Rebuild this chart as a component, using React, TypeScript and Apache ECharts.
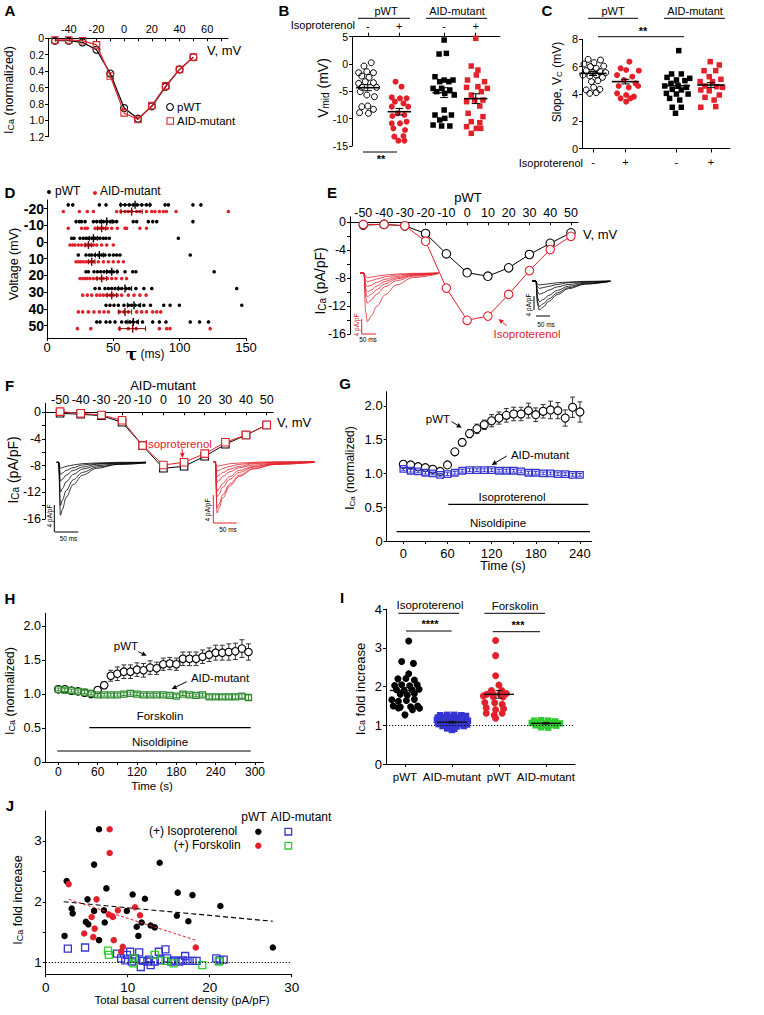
import React, { useEffect, useRef } from "react";
import * as echarts from "echarts";

const FONT = '"Liberation Sans", Arial, Helvetica, sans-serif';
const BLACK = "#000";
const RED = "#e3212b";
const BLUE = "#3535d2";
const DKGREEN = "#2e8b2e";
const GREEN = "#2fcc2f";
const CLEAR = "rgba(255,255,255,0)";

// ---------------- Panel A ----------------
const A_VOLT = [-50, -40, -30, -20, -10, 0, 10, 20, 30, 40, 50];
const A_PWT = [0.03, 0.03, 0.05, 0.14, 0.43, 0.85, 0.98, 0.83, 0.59, 0.38, 0.23];
const A_MUT = [0.02, 0.02, 0.03, 0.08, 0.46, 0.91, 0.99, 0.82, 0.58, 0.38, 0.23];
const A_X_TICKS = [-50, -40, -30, -20, -10, 0, 10, 20, 30, 40, 50, 60, 70];
const A_X_LABELS = [-40, -20, 0, 20, 40, 60];
const A_Y_LABELS = [0, 0.2, 0.4, 0.6, 0.8, 1.0, 1.2];

// ---------------- Panel B (Vmid) ----------------
const B_POS = [1, 2, 3.42, 4.42];
const B_SIGNS = ["-", "+", "-", "+"];
const B_PWT_CTRL = [[0.11, 0.24], [-0.12, -0.37], [-0.29, -1.59], [-0.03, -1.4], [0.18, -1.59], [-0.19, -2.2], [0.04, -2.44], [-0.29, -3.54], [-0.08, -3.23], [0.18, -3.41], [-0.19, -4.27], [0.28, -4.27], [-0.24, -5.06], [-0.03, -5.67], [0.21, -5.98], [-0.19, -7.8], [0, -7.68], [0.18, -8.29], [-0.26, -8.9], [0.02, -9.02]];
const B_PWT_ISO = [[-0.12, -3.23], [0.07, -4.15], [-0.24, -6.1], [0.02, -6.28], [0.23, -6.28], [-0.14, -6.89], [0.13, -7.2], [-0.24, -7.8], [0.28, -7.8], [-0.05, -9.02], [0.16, -9.33], [-0.22, -9.51], [0.23, -10.55], [-0.24, -10.85], [0.02, -10.85], [-0.19, -11.77], [0.18, -12.07], [-0.16, -13.29], [0.13, -13.17], [-0.03, -14.02], [0.16, -14.02]];
const B_MUT_CTRL = [[0, 4.39], [-0.16, 1.83], [0.07, 1.95], [-0.29, -2.32], [0, -2.93], [0.28, -2.93], [-0.14, -3.23], [0.15, -3.23], [-0.35, -4.45], [-0.08, -4.45], [0.18, -4.76], [-0.24, -5.06], [0.02, -5.37], [0.32, -5.67], [0, -8.41], [-0.29, -9.33], [0.23, -9.33], [0.02, -9.94], [-0.14, -10.24], [-0.35, -11.16], [-0.08, -11.34], [0.18, -11.34]];
const B_MUT_ISO = [[0, 4.7], [-0.14, -0.37], [0.07, -1.1], [0.02, -2.01], [-0.26, -2.93], [0.28, -3.23], [-0.29, -4.27], [0.07, -4.15], [0.37, -4.45], [0.18, -5.06], [-0.14, -5.67], [0.23, -6.59], [-0.29, -6.89], [-0.03, -6.59], [0.13, -7.68], [-0.24, -9.02], [0.23, -9.63], [-0.14, -10.55], [0.13, -10.73], [-0.29, -11.46], [0.02, -11.77], [0.16, -11.77], [-0.14, -12.68]];
const B_MEAN = [-4.33, -8.72, -5.24, -6.34];
const B_SEM = [0.55, 0.6, 0.9, 0.9];

// ---------------- Panel C (slope) ----------------
const C_POS = [1, 2, 3.57, 4.63];
const C_PWT_CTRL = [[-0.15, 6.53], [0.03, 6.29], [0.23, 6.48], [-0.28, 6.19], [-0.08, 6.0], [0.1, 5.87], [0.33, 6.04], [-0.21, 5.7], [0, 5.56], [0.21, 5.63], [0.39, 5.56], [-0.31, 5.38], [-0.1, 5.31], [0.1, 5.38], [0.29, 5.21], [-0.05, 4.9], [0.15, 4.97], [-0.21, 4.29], [0.02, 4.48], [0.21, 4.33], [-0.1, 4.04], [0.1, 4.09]];
const C_PWT_ISO = [[0.12, 6.36], [-0.15, 5.87], [0.02, 5.75], [0.41, 5.7], [-0.26, 5.38], [0.21, 5.26], [-0.05, 5.02], [0.31, 4.77], [-0.21, 4.58], [0.1, 4.48], [0.39, 4.58], [-0.26, 4.04], [0.02, 3.92], [0.26, 3.8], [-0.15, 3.67], [0.15, 3.67], [0.02, 3.43]];
const C_MUT_CTRL = [[0.07, 7.17], [-0.15, 5.46], [0.15, 5.46], [-0.29, 5.21], [0.41, 5.14], [0, 5.02], [0.26, 4.97], [-0.17, 4.77], [-0.36, 4.58], [0.05, 4.58], [0.31, 4.48], [-0.13, 4.33], [0.15, 4.29], [-0.31, 4.04], [0, 3.99], [0.36, 3.99], [-0.21, 3.67], [0.1, 3.55], [-0.13, 3.02], [0.15, 3.02], [-0.03, 2.58]];
const C_MUT_ISO = [[-0.02, 6.36], [0.26, 6.12], [-0.21, 5.7], [0.15, 5.7], [-0.05, 5.26], [0.31, 5.07], [-0.33, 4.9], [0.05, 4.9], [-0.18, 4.58], [0.18, 4.53], [0.36, 4.48], [-0.31, 4.29], [-0.05, 4.23], [0.26, 3.92], [-0.18, 3.75], [0.1, 3.55], [-0.31, 3.02], [0.15, 3.07]];
const C_MEAN = [5.5, 4.9, 4.6, 4.65];
const C_SEM = [0.15, 0.17, 0.2, 0.17];

// ---------------- Panel D (tau) ----------------
const D_VOLT = [-20, -10, 0, 10, 20, 30, 40, 50];
const D_PWT_TAU = [
  [16, 19.4, 39.5, 44.5, 55.6, 58.8, 62, 65, 68, 71.4, 75, 77.7, 89, 91.5, 110, 116],
  [21.9, 24.4, 26, 28.7, 35, 37.5, 40, 42.5, 45, 47.5, 50, 52.5, 65, 67.6, 76.4, 79.7, 82.7, 110],
  [18.6, 20.4, 24.9, 27.4, 29.4, 31.2, 33.7, 36.2, 38, 40, 42.5, 44.5, 47, 99],
  [23.6, 29.4, 32, 33.7, 36.2, 38.7, 41.2, 43.7, 47, 50, 52.5, 55, 108],
  [29.4, 31.2, 35.4, 38, 40.5, 43, 45.5, 47.5, 50, 53, 58.8, 64.6, 67, 126],
  [36.2, 39.5, 43.7, 46.3, 48.8, 51.3, 53.8, 56.3, 59.6, 62, 67, 73, 79, 143],
  [44.5, 47.5, 50.5, 53.8, 58, 61.3, 63.8, 66.4, 69.6, 73, 78, 88, 92.8, 99.8, 146.8],
  [37.5, 40, 44.5, 47.5, 51.3, 56.3, 59.6, 62.6, 65, 68, 72, 79.7, 84.7, 89.7, 108, 115, 121.7],
];
const D_MUT_TAU = [
  [12.3, 24.4, 30.4, 35, 52.5, 55.6, 58.8, 61.3, 63.8, 67.6, 70, 75, 79, 81.4, 84.7, 87.7, 90, 97.3, 136.7],
  [16, 26, 28.7, 30.4, 36.2, 38, 40, 42.5, 45.5, 48.8, 53, 58.8, 60, 70, 75],
  [17.3, 19.4, 21, 23.6, 26, 28.7, 30.4, 32.4, 35, 37.5, 41.2, 45, 50],
  [21.9, 23.6, 25.4, 27.4, 29.4, 31.2, 33, 35, 38.7, 42.5, 46.3, 50, 53.8, 57.6],
  [24.9, 26.9, 28.7, 30.4, 32.4, 35, 37.5, 40, 42.5, 45.5, 48.8, 52, 56.3, 60],
  [26.9, 30.4, 33.7, 37.5, 40, 42.5, 45, 47.5, 50, 53, 56.3, 61.3, 65.6, 70, 74.7],
  [23.6, 26.9, 31.2, 35.4, 39.5, 43, 46.3, 54.6, 58, 61.3, 67.6, 71.4, 75, 79.7, 82.7, 85.7],
  [22.9, 33, 54.6, 61.3, 67.2, 84.7, 90.2, 92.7, 123],
];
const D_PWT_MEAN = [66.4, 45, 35, 39.5, 48.8, 58.8, 65.6, 65];
const D_PWT_ERR = [11, 4, 3, 3, 4, 5, 5, 4];
const D_MUT_MEAN = [63.8, 41.2, 31.2, 33.7, 41.2, 48.8, 58.8, 64.6];
const D_MUT_ERR = [8, 3, 2.5, 2.5, 3.5, 3.5, 5, 9.7];

// ---------------- Panel E / F (I-V) ----------------
const IV_VOLT = [-50, -40, -30, -20, -10, 0, 10, 20, 30, 40, 50];
const E_PWT = [-0.4, -0.3, -0.5, -1.6, -4.5, -7.2, -7.7, -6.5, -4.6, -3.0, -1.5];
const E_ISO = [-0.3, -0.3, -0.5, -2.7, -9.4, -14.0, -13.4, -10.3, -6.9, -3.9, -2.0];
const F_MUT = [-0.15, -0.3, -0.5, -1.5, -5.0, -8.4, -8.1, -6.6, -4.8, -3.4, -1.9];
const F_ISO = [0.1, -0.15, -0.4, -1.2, -5.0, -7.9, -7.5, -6.2, -4.5, -3.4, -1.9];
const IV_X_TICKS = [-50, -40, -30, -20, -10, 0, 10, 20, 30, 40, 50];
const IV_Y_LABELS = [0, -4, -8, -12, -16];
const IV_Y_TICKS = [0, -2, -4, -6, -8, -10, -12, -14, -16];

// current traces (time in ms, current in pA/pF)
const E_TRACE_T = [0, 14, 20, 26, 40, 60, 90, 130, 190, 280];
const E_ISO_TRACES = [
  [0, 0, -11, -13.9, -12.3, -9.5, -6.2, -3.4, -1.3, -0.2],
  [0, 0, -7, -8.6, -7.7, -6.0, -3.9, -2.2, -0.9, -0.1],
  [0, 0, -5.5, -6.8, -6.1, -4.7, -3.1, -1.7, -0.7, -0.1],
  [0, 0, -4.4, -5.4, -4.8, -3.7, -2.4, -1.4, -0.5, -0.1],
  [0, 0, -3.2, -3.9, -3.5, -2.7, -1.8, -1.0, -0.4, 0],
  [0, 0, -2.0, -2.5, -2.2, -1.7, -1.1, -0.6, -0.2, 0],
  [0, 0, -1.0, -1.3, -1.2, -0.9, -0.6, -0.3, -0.1, 0],
];
const E_PWT_TRACES = [
  [0, 0, -6.8, -8.3, -7.4, -5.8, -3.9, -2.2, -0.9, -0.1],
  [0, 0, -6.0, -7.3, -6.5, -5.1, -3.4, -1.9, -0.8, -0.1],
  [0, 0, -4.8, -5.9, -5.3, -4.1, -2.7, -1.5, -0.6, -0.1],
  [0, 0, -3.1, -3.8, -3.4, -2.6, -1.7, -1.0, -0.4, 0],
  [0, 0, -1.7, -2.1, -1.9, -1.5, -1.0, -0.5, -0.2, 0],
  [0, 0, -0.9, -1.1, -1.0, -0.8, -0.5, -0.3, -0.1, 0],
];
const F_MUT_T = [0, 4, 8, 12, 20, 35, 55, 85, 130, 190];
const F_MUT_TRACES = [
  [0, 0, -7.85, -7.0, -5.2, -3.3, -1.9, -0.9, -0.3, -0.1],
  [0, 0, -6.4, -5.6, -4.2, -2.6, -1.5, -0.7, -0.3, -0.1],
  [0, 0, -4.4, -3.9, -2.9, -1.8, -1.0, -0.5, -0.2, 0],
  [0, 0, -2.8, -2.5, -1.9, -1.2, -0.7, -0.3, -0.1, 0],
  [0, 0, -1.8, -1.6, -1.2, -0.8, -0.4, -0.2, -0.1, 0],
  [0, 0, -0.9, -0.8, -0.6, -0.4, -0.2, -0.1, 0, 0],
];
const F_ISO_T = [0, 4, 8, 12, 20, 35, 55, 85, 130, 215];
const F_ISO_TRACES = [
  [0, 0, -7.6, -6.9, -5.4, -3.6, -2.2, -1.1, -0.4, -0.1],
  [0, 0, -6.9, -6.3, -4.9, -3.3, -2.0, -1.0, -0.4, -0.1],
  [0, 0, -5.2, -4.8, -3.8, -2.6, -1.6, -0.8, -0.3, 0],
  [0, 0, -4.4, -4.0, -3.2, -2.2, -1.3, -0.7, -0.3, 0],
  [0, 0, -3.0, -2.8, -2.2, -1.5, -0.9, -0.5, -0.2, 0],
  [0, 0, -2.2, -2.0, -1.6, -1.1, -0.7, -0.3, -0.1, 0],
  [0, 0, -1.4, -1.3, -1.0, -0.7, -0.4, -0.2, -0.1, 0],
  [0, 0, -0.7, -0.6, -0.5, -0.3, -0.2, -0.1, 0, 0],
];

// ---------------- Panel G (isoproterenol time course) ----------------
const G_T = [0, 10, 20, 30, 40, 50, 60, 70, 80, 90, 100, 110, 120, 130, 140, 150, 160, 170, 180, 190, 200, 210, 220, 230, 240];
const G_PWT = [1.136, 1.126, 1.1, 1.086, 1.062, 1.03, 1.126, 1.32, 1.46, 1.59, 1.66, 1.72, 1.78, 1.82, 1.86, 1.88, 1.88, 1.93, 1.87, 1.92, 1.94, 1.93, 1.82, 1.98, 1.91];
const G_PWT_ERR = [0.02, 0.02, 0.02, 0.02, 0.02, 0.02, 0.03, 0.04, 0.05, 0.06, 0.07, 0.07, 0.09, 0.09, 0.1, 0.1, 0.1, 0.11, 0.1, 0.1, 0.13, 0.12, 0.12, 0.15, 0.15];
const G_MUT = [1.067, 1.04, 1.03, 1.01, 1.0, 0.98, 0.99, 1.01, 1.04, 1.05, 1.05, 1.05, 1.05, 1.04, 1.04, 1.04, 1.03, 1.01, 1.01, 1.0, 1.0, 0.99, 0.99, 0.98, 0.98];
const G_MUT_ERR = [0.02, 0.02, 0.02, 0.02, 0.02, 0.02, 0.02, 0.02, 0.02, 0.02, 0.02, 0.02, 0.02, 0.02, 0.02, 0.02, 0.02, 0.02, 0.02, 0.02, 0.02, 0.02, 0.02, 0.02, 0.02];
const G_X_LABELS = [0, 60, 120, 180, 240];
const G_X_TICKS = [0, 30, 60, 90, 120, 150, 180, 210, 240];
const NORM_Y_LABELS = [0, 0.5, 1.0, 1.5, 2.0];

// ---------------- Panel H (forskolin time course) ----------------
const H_T = [0, 10, 20, 30, 40, 50, 60, 70, 80, 90, 100, 110, 120, 130, 140, 150, 160, 170, 180, 190, 200, 210, 220, 230, 240, 250, 260, 270, 280, 290];
const H_PWT = [1.07, 1.07, 1.05, 1.04, 1.02, 1.0, 1.06, 1.13, 1.27, 1.3, 1.33, 1.33, 1.36, 1.35, 1.39, 1.38, 1.44, 1.45, 1.44, 1.52, 1.52, 1.52, 1.55, 1.58, 1.61, 1.61, 1.62, 1.63, 1.67, 1.62];
const H_PWT_ERR = [0.02, 0.02, 0.02, 0.02, 0.02, 0.02, 0.03, 0.05, 0.08, 0.1, 0.1, 0.1, 0.1, 0.1, 0.1, 0.09, 0.09, 0.09, 0.09, 0.1, 0.1, 0.1, 0.1, 0.1, 0.11, 0.11, 0.12, 0.12, 0.13, 0.12];
const H_MUT = [1.07, 1.06, 1.05, 1.04, 1.03, 1.01, 0.99, 0.99, 0.99, 0.99, 1.0, 1.01, 1.0, 0.99, 0.99, 0.99, 0.99, 0.98, 0.97, 1.0, 0.99, 0.98, 0.99, 0.96, 0.96, 0.96, 0.96, 0.96, 0.97, 0.95];
const H_MUT_ERR = [0.02, 0.02, 0.02, 0.02, 0.02, 0.02, 0.02, 0.02, 0.02, 0.02, 0.02, 0.02, 0.02, 0.02, 0.02, 0.02, 0.02, 0.02, 0.02, 0.02, 0.02, 0.02, 0.02, 0.03, 0.03, 0.03, 0.03, 0.03, 0.03, 0.04];
const H_X_LABELS = [0, 60, 120, 180, 240, 300];
const H_X_TICKS = [0, 30, 60, 90, 120, 150, 180, 210, 240, 270, 300];

// ---------------- Panel I (fold increase) ----------------
const I_GROUPS = ["pWT", "AID-mutant", "pWT", "AID-mutant"];
const I_PWT_ISO = [[0.08, 3.18], [-0.07, 2.65], [0.18, 2.6], [0.08, 2.33], [-0.15, 2.2], [0.02, 2.21], [0.2, 2.17], [-0.22, 2.03], [-0.07, 2.05], [0.1, 2.02], [0.26, 2.05], [-0.18, 1.92], [-0.02, 1.9], [0.15, 1.92], [0.3, 1.93], [-0.1, 1.8], [0.05, 1.78], [0.2, 1.82], [-0.28, 1.66], [-0.14, 1.62], [0.03, 1.64], [0.2, 1.67], [-0.25, 1.5], [-0.1, 1.47], [0.12, 1.48], [0.27, 1.5], [-0.14, 1.45], [0.16, 1.4], [0.31, 1.44], [0, 1.27]];
const I_MUT_ISO = [[-0.25, 1.26], [-0.1, 1.27], [0.05, 1.27], [0.2, 1.26], [0.3, 1.24], [-0.3, 1.2], [-0.15, 1.21], [0, 1.22], [0.15, 1.2], [0.28, 1.19], [-0.32, 1.14], [-0.18, 1.15], [-0.05, 1.15], [0.1, 1.14], [0.24, 1.13], [0.34, 1.12], [-0.3, 1.08], [-0.15, 1.09], [0, 1.08], [0.15, 1.08], [0.3, 1.07], [-0.28, 1.03], [-0.12, 1.03], [0.03, 1.02], [0.18, 1.03], [0.32, 1.02], [-0.2, 0.98], [-0.05, 0.97], [0.1, 0.97], [0.25, 0.98], [-0.1, 0.92], [0.05, 0.91], [0, 0.88]];
const I_PWT_FSK = [[-0.07, 3.19], [-0.07, 2.8], [-0.07, 2.28], [0, 2.04], [-0.16, 1.9], [0.06, 1.9], [-0.26, 1.8], [-0.12, 1.8], [0.02, 1.81], [0.16, 1.82], [-0.33, 1.76], [-0.12, 1.74], [0.09, 1.73], [-0.3, 1.59], [-0.09, 1.58], [0.07, 1.54], [-0.27, 1.45], [-0.07, 1.4], [0.1, 1.43], [-0.27, 1.31], [-0.1, 1.26], [0.07, 1.31], [-0.07, 1.18]];
const I_MUT_FSK = [[-0.25, 1.12], [-0.1, 1.13], [0.05, 1.12], [0.2, 1.1], [-0.3, 1.06], [-0.15, 1.07], [0, 1.05], [0.15, 1.06], [0.3, 1.05], [-0.22, 1.0], [-0.07, 1.0], [0.08, 1.01], [0.22, 0.99], [-0.1, 0.95], [0.05, 0.94]];
const I_MEAN = [1.9, 1.08, 1.8, 1.05];
const I_SEM = [0.08, 0.02, 0.1, 0.02];

// ---------------- Panel J (correlation) ----------------
const J_PWT_ISO = [[2.3, 1.44], [2.56, 2.34], [3.17, 1.89], [3.29, 1.81], [4.9, 1.67], [5.2, 1.63], [5.1, 2.04], [5.9, 2.61], [5.9, 1.85], [6.5, 1.37], [6.5, 3.19], [7.2, 1.66], [7.4, 2.22], [7.1, 1.86], [9.9, 1.85], [10.6, 2.12], [11.1, 1.59], [11.3, 1.44], [11.7, 1.66], [12.1, 2.05], [12.8, 1.61], [13.3, 1.58], [13.9, 2.64], [16.0, 1.77], [16.1, 2.15], [17.4, 1.68], [17.9, 2.11], [21.3, 1.93], [27.7, 1.25]];
const J_PWT_FSK = [[2.8, 2.29], [7.8, 3.19], [7.8, 2.8], [6.2, 2.04], [5.6, 1.75], [5.97, 1.56], [5.8, 1.42], [4.7, 1.48], [7.7, 1.79], [8.2, 1.75], [8.3, 1.37], [8.8, 1.86], [9.4, 1.26], [9.2, 1.18], [10.9, 1.91], [11.5, 1.78], [18.3, 1.25]];
const J_MUT_ISO = [[2.7, 1.23], [4.8, 1.25], [8.7, 1.15], [9.2, 1.07], [9.7, 1.04], [9.9, 1.13], [10.3, 1.18], [10.5, 1.02], [10.9, 1.07], [11.4, 1.17], [11.6, 0.93], [11.9, 1.03], [12.6, 1.05], [12.8, 0.96], [13.3, 1.02], [13.8, 1.18], [14.0, 1.04], [14.6, 1.22], [14.8, 1.07], [15.3, 1.02], [15.7, 1.04], [16.3, 1.02], [16.7, 1.04], [17.0, 1.11], [17.3, 1.03], [17.9, 1.03], [18.4, 1.03], [20.8, 1.07], [21.2, 1.04], [21.7, 1.05], [12.4, 1.02]];
const J_MUT_FSK = [[7.6, 1.2], [7.7, 1.13], [10.7, 1.07], [10.7, 0.99], [13.3, 1.13], [14.6, 1.03], [15.6, 0.99], [19.1, 0.96], [21.1, 1.02]];
const J_TREND_ISO = [[2.2, 2.0], [27.7, 1.68]];
const J_TREND_FSK = [[2.8, 2.04], [18.3, 1.37]];
const J_Y_LABELS = [1, 2, 3];
const J_Y_TICKS = [1, 1.5, 2, 2.5, 3];

// ================= helpers =================
const zip = (xs, ys) => xs.map((x, i) => [x, ys[i]]);
const swarm = (pos, pts) => pts.map(([dx, v]) => [pos + dx, v]);
const fmt1 = (v) => (v === 0 ? "0" : v.toFixed(1));

function axis(gi, o) {
  const show = o.show !== false;
  return {
    type: "value",
    gridIndex: gi,
    min: o.min,
    max: o.max,
    interval: o.interval,
    inverse: !!o.inverse,
    position: o.position,
    axisLine: { show, onZero: !!o.onZero, lineStyle: { color: BLACK, width: 1 } },
    axisTick: {
      show,
      length: o.tickLen ?? 3,
      inside: !!o.tickInside,
      customValues: o.ticks,
      lineStyle: { color: BLACK, width: 1 },
    },
    axisLabel: {
      show,
      customValues: o.labels,
      formatter: o.fmt,
      margin: o.margin ?? 4,
      hideOverlap: false,
      showMinLabel: true,
      showMaxLabel: true,
      color: BLACK,
      fontFamily: FONT,
      fontSize: o.fontSize ?? 11,
      fontWeight: o.bold ? "bold" : "normal",
    },
    splitLine: { show: false },
  };
}

function scatter(gi, data, symbol, size, fill, stroke, bw, z = 3) {
  return {
    type: "scatter",
    xAxisIndex: gi,
    yAxisIndex: gi,
    data,
    symbol,
    symbolSize: size,
    itemStyle: { color: fill, borderColor: stroke, borderWidth: bw, opacity: 1 },
    z,
    silent: true,
  };
}

function lineSeries(gi, data, color, symbol, size, fill, lw = 1, z = 3) {
  return {
    type: "line",
    xAxisIndex: gi,
    yAxisIndex: gi,
    data,
    symbol,
    symbolSize: size,
    showSymbol: !!symbol,
    clip: false,
    lineStyle: { color, width: lw },
    itemStyle: { color: fill, borderColor: color, borderWidth: 1.1 },
    z,
    silent: true,
  };
}

function traceSeries(gi, t, vals, color) {
  return {
    type: "line",
    xAxisIndex: gi,
    yAxisIndex: gi,
    data: zip(t, vals),
    showSymbol: false,
    symbol: "none",
    smooth: 0.35,
    smoothMonotone: "x",
    clip: false,
    lineStyle: { color, width: 0.8 },
    z: 2,
    silent: true,
  };
}

const L = (x1, y1, x2, y2, st) => ({ type: "line", shape: { x1, y1, x2, y2 }, style: st });

function meanBars(gi, data, color, hw, cap, lw = 1.6) {
  return {
    type: "custom",
    coordinateSystem: "cartesian2d",
    xAxisIndex: gi,
    yAxisIndex: gi,
    z: 6,
    silent: true,
    data,
    renderItem: (p, api) => {
      const x = api.value(0), m = api.value(1), e = api.value(2);
      const l = api.coord([x - hw, m]), r = api.coord([x + hw, m]);
      const t = api.coord([x, m + e]), b = api.coord([x, m - e]);
      const st = { stroke: color, lineWidth: 1 };
      return {
        type: "group",
        children: [
          L(l[0], l[1], r[0], r[1], { stroke: color, lineWidth: lw }),
          L(t[0], t[1], b[0], b[1], st),
          L(t[0] - cap, t[1], t[0] + cap, t[1], st),
          L(b[0] - cap, b[1], b[0] + cap, b[1], st),
        ],
      };
    },
  };
}

function hErrBars(gi, data, color) {
  return {
    type: "custom",
    coordinateSystem: "cartesian2d",
    xAxisIndex: gi,
    yAxisIndex: gi,
    z: 6,
    silent: true,
    data,
    renderItem: (p, api) => {
      const m = api.value(0), row = api.value(1), e = api.value(2);
      const a = api.coord([m - e, row]), b = api.coord([m + e, row]), c = api.coord([m, row]);
      const st = { stroke: color, lineWidth: 1 };
      return {
        type: "group",
        children: [
          L(a[0], a[1], b[0], b[1], st),
          L(a[0], a[1] - 2.5, a[0], a[1] + 2.5, st),
          L(b[0], b[1] - 2.5, b[0], b[1] + 2.5, st),
          L(c[0], c[1] - 4, c[0], c[1] + 4, { stroke: color, lineWidth: 1.4 }),
        ],
      };
    },
  };
}

function vErrBars(gi, data, color, cap = 2.5, z = 2) {
  return {
    type: "custom",
    coordinateSystem: "cartesian2d",
    xAxisIndex: gi,
    yAxisIndex: gi,
    z,
    silent: true,
    data,
    renderItem: (p, api) => {
      const x = api.value(0), v = api.value(1), e = api.value(2);
      const t = api.coord([x, v + e]), b = api.coord([x, v - e]);
      const st = { stroke: color, lineWidth: 1 };
      return {
        type: "group",
        children: [
          L(t[0], t[1], b[0], b[1], st),
          L(t[0] - cap, t[1], t[0] + cap, t[1], st),
          L(b[0] - cap, b[1], b[0] + cap, b[1], st),
        ],
      };
    },
  };
}

function refLine(gi, y) {
  return {
    type: "scatter",
    xAxisIndex: gi,
    yAxisIndex: gi,
    data: [],
    symbolSize: 0,
    z: 1,
    silent: true,
    markLine: {
      silent: true,
      symbol: ["none", "none"],
      label: { show: false },
      lineStyle: { color: BLACK, type: [1.2, 1.8], width: 1 },
      data: [{ yAxis: y }],
    },
  };
}

// graphic helpers
function T(x, y, text, o = {}) {
  return {
    type: "text",
    x,
    y,
    rotation: o.rot || 0,
    silent: true,
    z: 100,
    style: {
      text,
      fill: o.color || BLACK,
      fontSize: o.size || 11,
      fontFamily: FONT,
      fontWeight: o.bold ? "bold" : "normal",
      align: o.align || "center",
      verticalAlign: "middle",
    },
  };
}
function subT(x, y, pre, sub, post, size, rot = Math.PI / 2) {
  return {
    type: "text",
    x,
    y,
    rotation: rot,
    silent: true,
    z: 100,
    style: {
      text: `{m|${pre}}{s|${sub}}{m|${post}}`,
      align: "center",
      verticalAlign: "middle",
      rich: {
        m: { fontSize: size, fontFamily: FONT, fill: BLACK, lineHeight: size },
        s: { fontSize: Math.round(size * 0.7), fontFamily: FONT, fill: BLACK, lineHeight: Math.round(size * 0.35), verticalAlign: "bottom" },
      },
    },
  };
}
function G(x1, y1, x2, y2, color = BLACK, w = 1) {
  return { type: "line", silent: true, z: 100, shape: { x1, y1, x2, y2 }, style: { stroke: color, lineWidth: w } };
}
function arrow(x1, y1, x2, y2, color = BLACK) {
  const ang = Math.atan2(y2 - y1, x2 - x1);
  const len = 5, w = 2.4;
  const bx = x2 - len * Math.cos(ang), by = y2 - len * Math.sin(ang);
  const px = -Math.sin(ang) * w, py = Math.cos(ang) * w;
  return [
    G(x1, y1, bx, by, color, 1),
    { type: "polygon", silent: true, z: 100, shape: { points: [[x2, y2], [bx + px, by + py], [bx - px, by - py]] }, style: { fill: color } },
  ];
}

// ================= option =================
function buildOption() {
  const grid = [
    { left: 48, top: 38.3, width: 180, height: 98.4 }, // 0 A
    { left: 352, top: 36.7, width: 148, height: 109.3 }, // 1 B
    { left: 582, top: 39.3, width: 148, height: 109.2 }, // 2 C
    { left: 47, top: 200, width: 199, height: 138 }, // 3 D
    { left: 350, top: 216.7, width: 228, height: 117.6 }, // 4 E
    { left: 45, top: 403.3, width: 228.3, height: 115.7 }, // 5 F
    { left: 386.7, top: 391.7, width: 205, height: 149.3 }, // 6 G
    { left: 45, top: 613.3, width: 218.3, height: 148.7 }, // 7 H
    { left: 386, top: 609.2, width: 189, height: 154.8 }, // 8 I
    { left: 45.7, top: 811, width: 246, height: 163.3 }, // 9 J
    { left: 360, top: 273, width: 78.4, height: 56 }, // 10 E iso traces
    { left: 532, top: 281, width: 78.4, height: 32 }, // 11 E pWT traces
    { left: 56.7, top: 462.3, width: 89.3, height: 54 }, // 12 F mutant traces
    { left: 213.3, top: 461.7, width: 102, height: 54 }, // 13 F iso traces
  ].map((g) => ({ ...g, containLabel: false, outerBoundsMode: "none" }));

  const signB = (v) => B_SIGNS[B_POS.findIndex((p) => Math.abs(p - v) < 1e-6)] ?? "";
  const signC = (v) => B_SIGNS[C_POS.findIndex((p) => Math.abs(p - v) < 1e-6)] ?? "";

  const xAxis = [
    axis(0, { min: -55, max: 75, position: "top", ticks: A_X_TICKS, labels: A_X_LABELS, tickInside: true, margin: 3.5, fontSize: 11 }),
    axis(1, { min: 0.5, max: 5.19, position: "top", ticks: B_POS, labels: B_POS, fmt: signB, tickLen: 4, margin: 5, fontSize: 11 }),
    axis(2, { min: 0.66, max: 5.22, position: "bottom", ticks: C_POS, labels: C_POS, fmt: signC, tickLen: 4, margin: 8, fontSize: 11 }),
    axis(3, { min: 0, max: 150, interval: 50, position: "bottom", margin: 3, fontSize: 13 }),
    axis(4, { min: -56.4, max: 53.4, position: "top", onZero: true, ticks: IV_X_TICKS, labels: IV_X_TICKS, tickInside: true, margin: -2.7, fontSize: 12.5 }),
    axis(5, { min: -57.3, max: 53.2, position: "top", onZero: true, ticks: IV_X_TICKS, labels: IV_X_TICKS, tickInside: true, margin: -2.7, fontSize: 12.5 }),
    axis(6, { min: -22.6, max: 256, position: "bottom", ticks: G_X_TICKS, labels: G_X_LABELS, margin: 6, fontSize: 13 }),
    axis(7, { min: -20.3, max: 312.6, position: "bottom", ticks: H_X_TICKS, labels: H_X_LABELS, margin: 4, fontSize: 12 }),
    axis(8, { min: -0.404, max: 3.62, position: "bottom", ticks: [0, 1, 2, 3], labels: [0, 1, 2, 3], fmt: (v) => I_GROUPS[Math.round(v)], margin: 7, fontSize: 11.5 }),
    axis(9, { min: 0, max: 30, interval: 10, position: "bottom", margin: 6, fontSize: 13.5 }),
    axis(10, { min: 0, max: 280, show: false }),
    axis(11, { min: 0, max: 280, show: false }),
    axis(12, { min: 0, max: 190, show: false }),
    axis(13, { min: 0, max: 217, show: false }),
  ];
  const yAxis = [
    axis(0, { min: 0, max: 1.2, inverse: true, ticks: A_Y_LABELS, labels: A_Y_LABELS, fmt: fmt1, fontSize: 10.5 }),
    axis(1, { min: -15, max: 5, interval: 5, fontSize: 10.5 }),
    axis(2, { min: 0, max: 8, interval: 2, fontSize: 11 }),
    axis(3, { min: -25.1, max: 57.4, inverse: true, ticks: D_VOLT, labels: D_VOLT, fontSize: 14, bold: true, margin: 3 }),
    axis(4, { min: -16, max: 0.8, ticks: IV_Y_TICKS, labels: IV_Y_LABELS, fontSize: 12.5 }),
    axis(5, { min: -16, max: 1.35, ticks: IV_Y_TICKS, labels: IV_Y_LABELS, fontSize: 12.5 }),
    axis(6, { min: 0, max: 2.21, ticks: NORM_Y_LABELS, labels: NORM_Y_LABELS, fmt: fmt1, fontSize: 13 }),
    axis(7, { min: 0, max: 2.19, ticks: NORM_Y_LABELS, labels: NORM_Y_LABELS, fmt: fmt1, fontSize: 12.5 }),
    axis(8, { min: 0, max: 4, interval: 1, fontSize: 13 }),
    axis(9, { min: 0.81, max: 3.49, ticks: J_Y_TICKS, labels: J_Y_LABELS, fontSize: 13.5 }),
    axis(10, { min: -16, max: 0, show: false }),
    axis(11, { min: -9.14, max: 0, show: false }),
    axis(12, { min: -8, max: 0, show: false }),
    axis(13, { min: -8, max: 0, show: false }),
  ];

  const series = [];
  // A
  series.push(lineSeries(0, zip(A_VOLT, A_PWT), BLACK, "circle", 7, CLEAR, 1.2));
  series.push(lineSeries(0, zip(A_VOLT, A_MUT), RED, "rect", 6.5, CLEAR, 1.2, 4));

  // B
  series.push(scatter(1, swarm(B_POS[0], B_PWT_CTRL), "circle", 6, CLEAR, BLACK, 1));
  series.push(scatter(1, swarm(B_POS[1], B_PWT_ISO), "circle", 6, RED, RED, 0));
  series.push(scatter(1, swarm(B_POS[2], B_MUT_CTRL), "rect", 5.5, BLACK, BLACK, 0));
  series.push(scatter(1, swarm(B_POS[3], B_MUT_ISO), "rect", 5.5, RED, RED, 0));
  series.push(meanBars(1, B_POS.map((p, i) => [p, B_MEAN[i], B_SEM[i]]), BLACK, 0.37, 4));

  // C
  series.push(scatter(2, swarm(C_POS[0], C_PWT_CTRL), "circle", 6, CLEAR, BLACK, 1));
  series.push(scatter(2, swarm(C_POS[1], C_PWT_ISO), "circle", 6, RED, RED, 0));
  series.push(scatter(2, swarm(C_POS[2], C_MUT_CTRL), "rect", 5.5, BLACK, BLACK, 0));
  series.push(scatter(2, swarm(C_POS[3], C_MUT_ISO), "rect", 5.5, RED, RED, 0));
  series.push(meanBars(2, C_POS.map((p, i) => [p, C_MEAN[i], C_SEM[i]]), BLACK, 0.42, 4));

  // D
  const dP = [], dM = [];
  D_VOLT.forEach((v, i) => {
    D_PWT_TAU[i].forEach((t) => dP.push([t, v - 2.2]));
    D_MUT_TAU[i].forEach((t) => dM.push([t, v + 1.8]));
  });
  series.push(scatter(3, dP, "circle", 3.6, BLACK, BLACK, 0));
  series.push(scatter(3, dM, "circle", 3.6, RED, RED, 0));
  series.push(hErrBars(3, D_VOLT.map((v, i) => [D_PWT_MEAN[i], v - 2.2, D_PWT_ERR[i]]), BLACK));
  series.push(hErrBars(3, D_VOLT.map((v, i) => [D_MUT_MEAN[i], v + 1.8, D_MUT_ERR[i]]), "#7a0a0a"));

  // E
  series.push(lineSeries(4, zip(IV_VOLT, E_PWT), BLACK, "circle", 8.5, "#fff", 1, 4));
  series.push(lineSeries(4, zip(IV_VOLT, E_ISO), RED, "circle", 8.5, "#fff", 1, 5));
  E_ISO_TRACES.forEach((tr) => series.push(traceSeries(10, E_TRACE_T, tr, RED)));
  E_PWT_TRACES.forEach((tr) => series.push(traceSeries(11, E_TRACE_T, tr, BLACK)));

  // F
  series.push(lineSeries(5, zip(IV_VOLT, F_MUT), BLACK, "rect", 7.5, "#fff", 1, 4));
  series.push(lineSeries(5, zip(IV_VOLT, F_ISO), RED, "rect", 7.5, "#fff", 1, 5));
  F_MUT_TRACES.forEach((tr) => series.push(traceSeries(12, F_MUT_T, tr, BLACK)));
  F_ISO_TRACES.forEach((tr) => series.push(traceSeries(13, F_ISO_T, tr, RED)));

  // G
  series.push(vErrBars(6, G_T.map((t, i) => [t, G_PWT[i], G_PWT_ERR[i]]), "#333", 2.5, 2));
  series.push(vErrBars(6, G_T.map((t, i) => [t, G_MUT[i], G_MUT_ERR[i]]), BLUE, 2, 4));
  series.push(scatter(6, zip(G_T, G_PWT), "circle", 8, "#fff", BLACK, 1.1, 3));
  series.push(scatter(6, zip(G_T, G_MUT), "rect", 6.5, CLEAR, BLUE, 1.3, 3));

  // H
  series.push(vErrBars(7, H_T.map((t, i) => [t, H_PWT[i], H_PWT_ERR[i]]), "#333", 2.5, 2));
  series.push(vErrBars(7, H_T.map((t, i) => [t, H_MUT[i], H_MUT_ERR[i]]), DKGREEN, 2, 4));
  series.push(scatter(7, zip(H_T, H_PWT), "circle", 7.5, "#fff", BLACK, 1.1, 3));
  series.push(scatter(7, zip(H_T, H_MUT), "rect", 6, CLEAR, DKGREEN, 1.3, 3));

  // I
  series.push(refLine(8, 1));
  series.push(scatter(8, swarm(0, I_PWT_ISO), "circle", 7, BLACK, BLACK, 0));
  series.push(scatter(8, swarm(1, I_MUT_ISO), "rect", 6.5, BLUE, BLUE, 0));
  series.push(scatter(8, swarm(2, I_PWT_FSK), "circle", 7, RED, RED, 0));
  series.push(scatter(8, swarm(3, I_MUT_FSK), "rect", 6.5, GREEN, GREEN, 0));
  series.push(meanBars(8, [0, 1, 2, 3].map((p, i) => [p, I_MEAN[i], I_SEM[i]]), "#111", 0.32, 3.5, 1.4));

  // J
  series.push(refLine(9, 1));
  series.push(scatter(9, J_MUT_ISO, "rect", 7, CLEAR, BLUE, 1.3));
  series.push(scatter(9, J_MUT_FSK, "rect", 7, CLEAR, GREEN, 1.3));
  series.push(scatter(9, J_PWT_ISO, "circle", 6.5, BLACK, BLACK, 0, 4));
  series.push(scatter(9, J_PWT_FSK, "circle", 6.5, RED, RED, 0, 4));
  series.push({ ...lineSeries(9, J_TREND_ISO, BLACK, null, 0, BLACK, 1.1, 5), lineStyle: { color: BLACK, width: 1.1, type: [5, 3] } });
  series.push({ ...lineSeries(9, J_TREND_FSK, RED, null, 0, RED, 1, 5), lineStyle: { color: RED, width: 1, type: [3, 2] } });

  // ---------- graphic annotations ----------
  const g = [];
  // panel letters
  [["A", 10, 10], ["B", 284, 10], ["C", 547, 10], ["D", 10, 192], ["E", 332, 192], ["F", 9.5, 385], ["G", 345, 383], ["H", 10, 598], ["I", 342, 597], ["J", 10, 805]].forEach(
    ([t, x, y]) => g.push(T(x, y, t, { size: 15, bold: true }))
  );
  // A
  g.push(subT(9, 90, "I", "Ca", " (normalized)", 12.5));
  g.push(T(207, 50, "V, mV", { size: 13, align: "left" }));
  g.push({ type: "circle", silent: true, z: 100, shape: { cx: 170, cy: 107, r: 3.4 }, style: { fill: CLEAR, stroke: BLACK, lineWidth: 1.1 } });
  g.push(T(177, 107, "pWT", { size: 11.5, align: "left" }));
  g.push({ type: "rect", silent: true, z: 100, shape: { x: 167, y: 117.8, width: 6.5, height: 6.5 }, style: { fill: CLEAR, stroke: RED, lineWidth: 1.1 } });
  g.push(T(177, 121, "AID-mutant", { size: 11.5, align: "left" }));
  // B
  g.push(subT(323, 88, "V", "mid", " (mV)", 14));
  g.push(T(386, 11, "pWT", { size: 11 }));
  g.push(G(358, 18.3, 410, 18.3));
  g.push(T(457, 11, "AID-mutant", { size: 11 }));
  g.push(G(426, 18.3, 487, 18.3));
  g.push(T(355, 25, "Isoproterenol", { size: 11, align: "right" }));
  g.push(G(363, 152, 397, 152));
  g.push(T(381, 158.5, "**", { size: 11, bold: true }));
  // C
  g.push(subT(557, 82, "Slope, V", "C", " (mV)", 12));
  g.push(T(613, 11, "pWT", { size: 11 }));
  g.push(G(588, 18.3, 638, 18.3));
  g.push(T(695, 11, "AID-mutant", { size: 11 }));
  g.push(G(664, 18.3, 725, 18.3));
  g.push(G(598, 36.7, 684, 36.7));
  g.push(T(643, 31, "**", { size: 11, bold: true }));
  g.push(T(583, 163, "Isoproterenol", { size: 11, align: "right" }));
  // D
  g.push(T(14, 264, "Voltage (mV)", { size: 12.5, rot: Math.PI / 2 }));
  g.push({ type: "circle", silent: true, z: 100, shape: { cx: 49, cy: 192, r: 2 }, style: { fill: BLACK } });
  g.push(T(55, 191, "pWT", { size: 12, align: "left" }));
  g.push({ type: "circle", silent: true, z: 100, shape: { cx: 95, cy: 193, r: 2 }, style: { fill: RED } });
  g.push(T(100, 191, "AID-mutant", { size: 12, align: "left" }));
  g.push({
    type: "text", x: 145, y: 354, silent: true, z: 100,
    style: { text: "{t|τ}{m| (ms)}", align: "center", verticalAlign: "middle", rich: { t: { fontSize: 17, fontFamily: "DejaVu Serif, serif", fontWeight: "bold", fill: BLACK }, m: { fontSize: 12, fontFamily: FONT, fill: BLACK } } },
  });
  // E
  g.push(subT(320, 281, "I", "Ca", " (pA/pF)", 14));
  g.push(T(468, 197, "pWT", { size: 13 }));
  g.push(T(583, 234, "V, mV", { size: 13, align: "left" }));
  g.push(T(527, 334, "Isoproterenol", { size: 11.5, color: RED }));
  g.push(...arrow(506.7, 325.7, 498.5, 319, RED));
  // E scale bars
  g.push(G(361.7, 319, 361.7, 334, RED), G(361.7, 334, 376, 334, RED));
  g.push(T(356.5, 325, "4 pA/pF", { size: 6.5, rot: Math.PI / 2, color: RED }));
  g.push(T(368, 339.5, "50 ms", { size: 6.5, color: BLACK }));
  g.push(G(534, 296, 534, 310, BLACK), G(536, 316, 550, 316, BLACK));
  g.push(T(528.5, 305, "4 pA/pF", { size: 6.5, rot: Math.PI / 2 }));
  g.push(T(546, 324, "50 ms", { size: 6.5 }));
  // F
  g.push(subT(13, 470, "I", "Ca", " (pA/pF)", 14));
  g.push(T(163, 385, "AID-mutant", { size: 13 }));
  g.push(T(277, 422, "V, mV", { size: 13, align: "left" }));
  g.push(T(178.3, 443.5, "Isoproterenol", { size: 11.5, color: RED }));
  g.push(...arrow(182, 448.5, 182.6, 458, RED));
  g.push(G(54.3, 505, 54.3, 532, BLACK), G(55, 532, 78.3, 532, BLACK));
  g.push(T(49.5, 516, "4 pA/pF", { size: 6.5, rot: Math.PI / 2 }));
  g.push(T(68.5, 538.5, "50 ms", { size: 6.5 }));
  g.push(G(213.3, 495, 213.3, 523, RED), G(213.3, 523, 236.7, 523, RED));
  g.push(T(207, 510, "4 pA/pF", { size: 6.5, rot: Math.PI / 2 }));
  g.push(T(228, 529.5, "50 ms", { size: 6.5 }));
  // G
  g.push(subT(350, 468, "I", "Ca", " (normalized)", 12));
  g.push(T(438, 419, "pWT", { size: 11.5 }));
  g.push(...arrow(451.7, 421.7, 461.7, 427.7));
  g.push(T(540, 455, "AID-mutant", { size: 11.5 }));
  g.push(...arrow(506.7, 456, 491.7, 465));
  g.push(T(512, 497, "Isoproterenol", { size: 11.5 }));
  g.push(G(448.3, 504.3, 588.3, 504.3, BLACK, 1.2));
  g.push(T(498, 523, "Nisoldipine", { size: 11.5 }));
  g.push(G(396.7, 531.7, 590, 531.7, BLACK, 1.2));
  g.push(T(503, 566, "Time (s)", { size: 12.5 }));
  // H
  g.push(subT(10, 691, "I", "Ca", " (normalized)", 12.5));
  g.push(T(126, 646, "pWT", { size: 11.5 }));
  g.push(...arrow(138.3, 651.7, 146.7, 655.7));
  g.push(T(220, 678, "AID-mutant", { size: 11.5 }));
  g.push(...arrow(186.7, 681.7, 171.7, 689));
  g.push(T(160, 716, "Forskolin", { size: 11.5 }));
  g.push(G(89.3, 727.7, 250.7, 727.7, BLACK, 1.2));
  g.push(T(160, 742.3, "Nisoldipine", { size: 11.5 }));
  g.push(G(57.3, 751, 250.7, 751, BLACK, 1.2));
  g.push(T(152, 786, "Time (s)", { size: 11.5 }));
  // I
  g.push(subT(360, 689, "I", "Ca", " fold increase", 13));
  g.push(T(430, 605, "Isoproterenol", { size: 11.5 }));
  g.push(G(398.3, 613.3, 459.3, 613.3));
  g.push(T(430, 624, "****", { size: 11, bold: true }));
  g.push(G(406, 631, 451.7, 631));
  g.push(T(515, 606, "Forskolin", { size: 11.5 }));
  g.push(G(484.3, 613.3, 545, 613.3));
  g.push(T(518, 625, "***", { size: 11, bold: true }));
  g.push(G(492.7, 631.7, 540, 631.7));
  // J
  g.push(subT(18, 900, "I", "Ca", " fold increase", 12.5));
  g.push(T(254, 817, "pWT", { size: 12 }));
  g.push(T(301, 817, "AID-mutant", { size: 12 }));
  g.push(T(237.3, 831, "(+) Isoproterenol", { size: 12, align: "right" }));
  g.push(T(240.7, 845, "(+) Forskolin", { size: 12, align: "right" }));
  g.push({ type: "circle", silent: true, z: 100, shape: { cx: 258.3, cy: 831.7, r: 3.2 }, style: { fill: BLACK } });
  g.push({ type: "circle", silent: true, z: 100, shape: { cx: 258.3, cy: 845.7, r: 3.2 }, style: { fill: RED } });
  g.push({ type: "rect", silent: true, z: 100, shape: { x: 285, y: 828.4, width: 6.6, height: 6.6 }, style: { fill: CLEAR, stroke: BLUE, lineWidth: 1.3 } });
  g.push({ type: "rect", silent: true, z: 100, shape: { x: 285, y: 842.4, width: 6.6, height: 6.6 }, style: { fill: CLEAR, stroke: GREEN, lineWidth: 1.3 } });
  g.push(T(182, 1000, "Total basal current density (pA/pF)", { size: 11.5 }));

  return {
    animation: false,
    backgroundColor: "#fff",
    textStyle: { fontFamily: FONT },
    grid,
    xAxis,
    yAxis,
    series,
    graphic: { elements: g },
  };
}

export default function App() {
  const ref = useRef(null);
  useEffect(() => {
    if (!ref.current) return;
    const chart = echarts.init(ref.current, null, { renderer: "svg" });
    chart.setOption(buildOption());
    return () => chart.dispose();
  }, []);
  return (
    <div
      ref={ref}
      style={{ position: "absolute", left: 0, top: 0, width: 764, height: 1015, background: "#fff" }}
    />
  );
}
